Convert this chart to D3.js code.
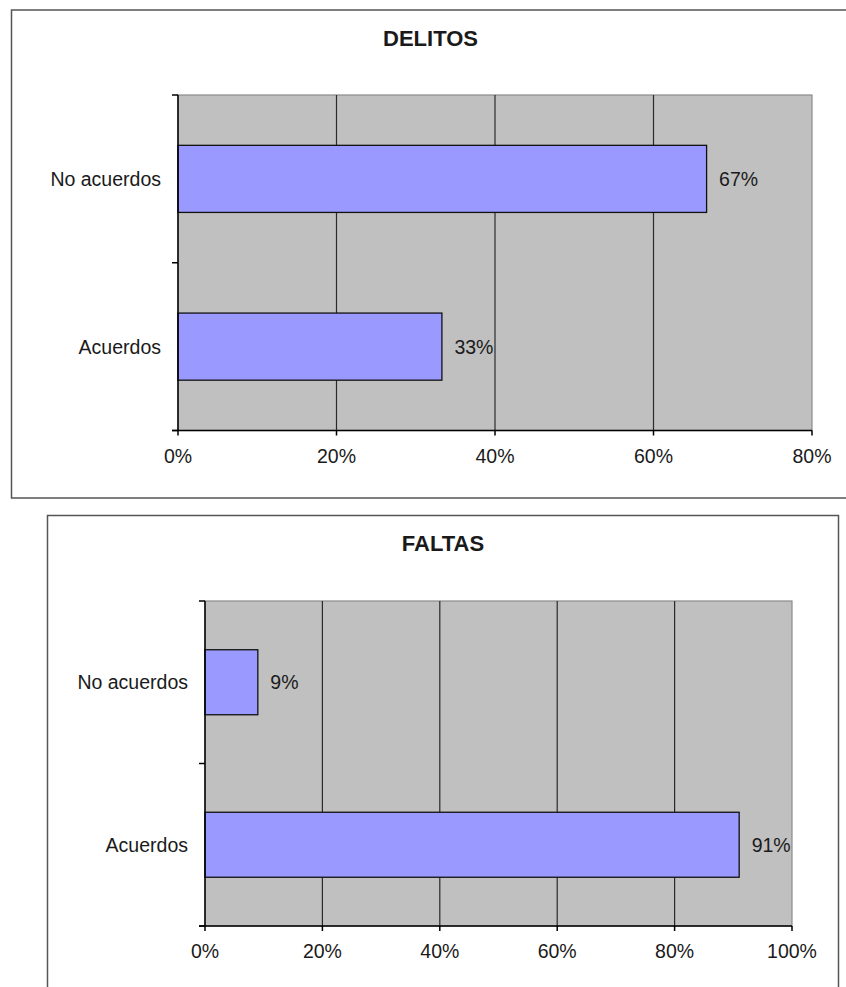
<!DOCTYPE html>
<html>
<head>
<meta charset="utf-8">
<script src="https://cdn.jsdelivr.net/npm/d3@7"></script>
<style>
  html, body { margin: 0; padding: 0; background: #fff; }
  svg { display: block; }
  text { font-family: "Liberation Sans", Arial, sans-serif; fill: #1a1a1a; }
</style>
</head>
<body>
<svg id="chart" width="846" height="987"></svg>
<script>
// ---- Data ----
const categories = ["No acuerdos", "Acuerdos"];
const delitosValues = [0.667, 0.333];
const faltasValues = [0.09, 0.91];
const delitosTicks = [0, 0.2, 0.4, 0.6, 0.8];
const faltasTicks = [0, 0.2, 0.4, 0.6, 0.8, 1.0];
const titles = ["DELITOS", "FALTAS"];

const svg = d3.select("#chart");
const pct = d3.format(".0%");

function drawChart(cfg) {
  const g = svg.append("g");
  // outer frame
  g.append("rect")
    .attr("x", cfg.frame.x).attr("y", cfg.frame.y)
    .attr("width", cfg.frame.w).attr("height", cfg.frame.h)
    .attr("fill", "#fff").attr("stroke", "#555").attr("stroke-width", 1.5);

  // title
  g.append("text")
    .attr("x", cfg.frame.x + cfg.frame.w / 2).attr("y", cfg.titleY)
    .attr("text-anchor", "middle").attr("dominant-baseline", "central")
    .style("font-size", "22px").style("font-weight", "bold")
    .text(cfg.title);

  const x = d3.scaleLinear().domain([0, cfg.ticks[cfg.ticks.length - 1]]).range([cfg.plot.x0, cfg.plot.x1]);
  const y = d3.scaleBand().domain(categories).range([cfg.plot.y0, cfg.plot.y1])
    .paddingInner(0.6).paddingOuter(0.3);

  // plot background
  g.append("rect")
    .attr("x", cfg.plot.x0).attr("y", cfg.plot.y0)
    .attr("width", cfg.plot.x1 - cfg.plot.x0).attr("height", cfg.plot.y1 - cfg.plot.y0)
    .attr("fill", "#c0c0c0").attr("stroke", "#8a8a8a").attr("stroke-width", 1.2);

  // gridlines
  g.selectAll(".grid").data(cfg.ticks.filter(t => t > 0 && t < cfg.ticks[cfg.ticks.length - 1]))
    .enter().append("line")
    .attr("x1", d => x(d)).attr("x2", d => x(d))
    .attr("y1", cfg.plot.y0).attr("y2", cfg.plot.y1)
    .attr("stroke", "#2a2a2a").attr("stroke-width", 1.2);

  // bars
  g.selectAll(".bar").data(categories.map((c, i) => ({ c, v: cfg.values[i] })))
    .enter().append("rect")
    .attr("x", x(0)).attr("y", d => y(d.c))
    .attr("width", d => x(d.v) - x(0)).attr("height", y.bandwidth())
    .attr("fill", "#9999ff").attr("stroke", "#111").attr("stroke-width", 1.3);

  // value labels
  g.selectAll(".val").data(categories.map((c, i) => ({ c, v: cfg.values[i] })))
    .enter().append("text")
    .attr("x", d => x(d.v) + 12.5).attr("y", d => y(d.c) + y.bandwidth() / 2)
    .attr("dominant-baseline", "central")
    .style("font-size", "19.5px")
    .text(d => pct(d.v));

  // left axis
  const boundaries = [cfg.plot.y0, cfg.plot.y0 + (cfg.plot.y1 - cfg.plot.y0) / 2, cfg.plot.y1];
  g.append("line")
    .attr("x1", cfg.plot.x0).attr("x2", cfg.plot.x0)
    .attr("y1", cfg.plot.y0).attr("y2", cfg.plot.y1)
    .attr("stroke", "#000").attr("stroke-width", 1.5);
  g.selectAll(".ytick").data(boundaries).enter().append("line")
    .attr("x1", cfg.plot.x0 - 6).attr("x2", cfg.plot.x0)
    .attr("y1", d => d).attr("y2", d => d)
    .attr("stroke", "#000").attr("stroke-width", 1.5);
  g.selectAll(".ylab").data(categories).enter().append("text")
    .attr("x", cfg.plot.x0 - 17).attr("y", d => y(d) + y.bandwidth() / 2)
    .attr("text-anchor", "end").attr("dominant-baseline", "central")
    .style("font-size", "19.5px")
    .text(d => d);

  // bottom axis
  g.append("line")
    .attr("x1", cfg.plot.x0 - 6).attr("x2", cfg.plot.x1)
    .attr("y1", cfg.plot.y1).attr("y2", cfg.plot.y1)
    .attr("stroke", "#000").attr("stroke-width", 1.5);
  g.selectAll(".xtick").data(cfg.ticks).enter().append("line")
    .attr("x1", d => x(d)).attr("x2", d => x(d))
    .attr("y1", cfg.plot.y1).attr("y2", cfg.plot.y1 + 5)
    .attr("stroke", "#000").attr("stroke-width", 1.5);
  g.selectAll(".xlab").data(cfg.ticks).enter().append("text")
    .attr("x", d => x(d)).attr("y", cfg.plot.y1 + 25)
    .attr("text-anchor", "middle").attr("dominant-baseline", "central")
    .style("font-size", "19.5px")
    .text(d => pct(d));
}

drawChart({
  title: titles[0],
  values: delitosValues,
  ticks: delitosTicks,
  frame: { x: 11.5, y: 10, w: 838, h: 488 },
  titleY: 38,
  plot: { x0: 178, x1: 812, y0: 95, y1: 430.5 }
});

drawChart({
  title: titles[1],
  values: faltasValues,
  ticks: faltasTicks,
  frame: { x: 47.5, y: 515.5, w: 791, h: 500 },
  titleY: 543.5,
  plot: { x0: 205, x1: 792, y0: 601, y1: 926 }
});
</script>
</body>
</html>
